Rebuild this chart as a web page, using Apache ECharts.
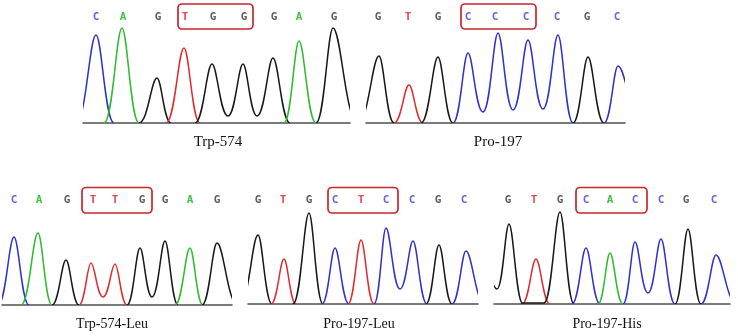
<!DOCTYPE html>
<html><head><meta charset="utf-8">
<script src="https://cdn.jsdelivr.net/npm/echarts@6/dist/echarts.min.js"></script>
<style>html,body{margin:0;padding:0;background:#fff}#c{width:738px;height:336px}</style>
</head><body><div id="c"></div>
<script>
// ---------- DATA (scan position, signal height) ----------
const trp574Name = 'Trp-574';
const trp574Bases = ['C','A','G','T','G','G','G','A','G'];
const trp574Calls = [96,123,158,185,213,244,274,299,334];
const trp574Box = [178,253];
const trp574Traces = [
  ['C', [[76,0],[96,88],[114,0]]],
  ['A', [[104,0],[122,95],[139,0]]],
  ['G', [[139,0],[157,45],[171,0]]],
  ['T', [[166,0],[184,75],[200,0]]],
  ['G', [[195,0],[212,59],[228,7],[243,59],[257,7],[273,65],[290,0]]],
  ['A', [[284,0],[299,82],[316,0]]],
  ['G', [[316,0],[333,95],[358,0]]]
];

const pro197Name = 'Pro-197';
const pro197Bases = ['G','T','G','C','C','C','C','G','C'];
const pro197Calls = [378,408,438,468,495,526,557,587,617];
const pro197Box = [461,536];
const pro197Traces = [
  ['G', [[358,0],[379,67],[394,0]]],
  ['T', [[394,0],[409,38],[423,0]]],
  ['G', [[421,0],[438,66],[453,0]]],
  ['C', [[453,0],[468,70],[483,11],[498,90],[513,13],[528,83],[543,14],[558,88],[573,0]]],
  ['G', [[573,0],[588,66],[604,0]]],
  ['C', [[604,0],[618,57],[642,0]]]
];

const trpLeuName = 'Trp-574-Leu';
const trpLeuBases = ['C','A','G','T','T','G','G','A','G'];
const trpLeuCalls = [14,39,67,93,115,142,165,190,217];
const trpLeuBox = [82,152];
const trpLeuTraces = [
  ['C', [[-2,0],[14,68],[29,0]]],
  ['A', [[21,0],[38,72],[52,0]]],
  ['G', [[52,0],[66,45],[79,0]]],
  ['T', [[79,0],[91,42],[103,8],[115,41],[127,0]]],
  ['G', [[127,0],[140,57],[152,8],[165,64],[178,0]]],
  ['A', [[175,0],[190,57],[203,0]]],
  ['G', [[202,0],[217,62],[238,0]]]
];

const proLeuName = 'Pro-197-Leu';
const proLeuBases = ['G','T','G','C','T','C','C','G','C'];
const proLeuCalls = [258,283,309,335,361,386,412,438,464];
const proLeuBox = [328,398];
const proLeuTraces = [
  ['G', [[240,0],[258,69],[272,0]]],
  ['T', [[271,0],[284,45],[296,0]]],
  ['G', [[293,0],[309,91],[323,0]]],
  ['C', [[322,0],[335,56],[349,0]]],
  ['T', [[348,0],[361,64],[374,0]]],
  ['C', [[374,0],[386,76],[400,15],[413,63],[427,0]]],
  ['G', [[426,0],[439,59],[452,0]]],
  ['C', [[452,0],[466,53],[485,0]]]
];

const proHisName = 'Pro-197-His';
const proHisBases = ['G','T','G','C','A','C','C','G','C'];
const proHisCalls = [508,534,560,586,610,635,661,686,714];
const proHisBox = [576,647];
const proHisTraces = [
  ['G', [[490,26],[497,15],[509,80],[523,0]]],
  ['T', [[522,0],[536,45],[550,0]]],
  ['G', [[521,1],[544,1],[560,92],[574,0]]],
  ['C', [[572,0],[586,56],[600,0]]],
  ['A', [[598,0],[610,51],[623,0]]],
  ['C', [[623,0],[635,62],[648,11],[661,65],[675,0]]],
  ['G', [[675,0],[688,75],[701,0]]],
  ['C', [[701,0],[716,49],[737,0]]]
];

// ---------- STYLE / LAYOUT ----------
const traceColor = {A:'#2cbc2c', C:'#3030d0', G:'#181818', T:'#e02a2e'};
const callColor  = {A:'#42c242', C:'#6868d8', G:'#5e5e5e', T:'#e24a4a'};

const panels = [
  {name:trp574Name, bases:trp574Bases, calls:trp574Calls, box:trp574Box, traces:trp574Traces,
   grid:{left:83, top:0, width:267, height:123}, x:[83,350], callY:17, boxY:[4,29], title:[218,134], fs:15},
  {name:pro197Name, bases:pro197Bases, calls:pro197Calls, box:pro197Box, traces:pro197Traces,
   grid:{left:366, top:0, width:259, height:123}, x:[366,625], callY:17, boxY:[4,29], title:[498,134], fs:15},
  {name:trpLeuName, bases:trpLeuBases, calls:trpLeuCalls, box:trpLeuBox, traces:trpLeuTraces,
   grid:{left:2, top:180, width:230, height:125}, x:[2,232], callY:20.5, boxY:[7.5,33], title:[112,317], fs:14},
  {name:proLeuName, bases:proLeuBases, calls:proLeuCalls, box:proLeuBox, traces:proLeuTraces,
   grid:{left:248, top:180, width:230, height:124}, x:[248,478], callY:20.5, boxY:[7.5,33], title:[359,317], fs:14},
  {name:proHisName, bases:proHisBases, calls:proHisCalls, box:proHisBox, traces:proHisTraces,
   grid:{left:494, top:180, width:236, height:124}, x:[494,730], callY:20.5, boxY:[7.5,33], title:[607,317], fs:14}
];

function bezierChildren(pts, color){
  const out = [];
  for (let i = 1; i < pts.length; i++){
    const [x0,y0] = pts[i-1], [x1,y1] = pts[i];
    const dx = x1 - x0;
    const k0 = y0 < y1 ? 0.32 : 0.5;
    const k1 = y1 < y0 ? 0.32 : 0.5;
    out.push({type:'bezierCurve',
      shape:{x1:x0, y1:y0, cpx1:x0 + k0*dx, cpy1:y0, cpx2:x1 - k1*dx, cpy2:y1, x2:x1, y2:y1},
      style:{fill:null, stroke:color, lineWidth:1.5}});
  }
  return out;
}

const grids = [], xAxes = [], yAxes = [], series = [], titles = [];
panels.forEach((p, gi) => {
  grids.push(Object.assign({containLabel:false}, p.grid));
  xAxes.push({type:'value', gridIndex:gi, min:p.x[0], max:p.x[1],
    axisLine:{show:true, onZero:true, lineStyle:{color:'#505050', width:1.6}},
    axisTick:{show:false}, axisLabel:{show:false}, splitLine:{show:false}});
  yAxes.push({type:'value', gridIndex:gi, min:0, max:p.grid.height, show:false,
    splitLine:{show:false}});
  // traces
  series.push({type:'custom', xAxisIndex:gi, yAxisIndex:gi, clip:true, silent:true,
    data:p.traces.map(t => t[1][1]),
    renderItem:(params, api) => {
      const t = p.traces[params.dataIndex];
      const pts = t[1].map(v => api.coord(v));
      return {type:'group', children:bezierChildren(pts, traceColor[t[0]])};
    }});
  // base calls
  series.push({type:'custom', xAxisIndex:gi, yAxisIndex:gi, clip:false, silent:true,
    data:p.calls.map(c => [c, 0]),
    renderItem:(params, api) => {
      const c = api.coord([api.value(0), 0]);
      const b = p.bases[params.dataIndex];
      return {type:'text', x:c[0], y:params.coordSys.y + p.callY,
        style:{text:b, fill:callColor[b], font:'bold 11px "DejaVu Sans Mono"',
          align:'center', verticalAlign:'middle'}};
    }});
  // highlight box
  series.push({type:'custom', xAxisIndex:gi, yAxisIndex:gi, clip:false, silent:true,
    data:[[p.box[0], p.box[1]]],
    renderItem:(params, api) => {
      const a = api.coord([api.value(0), 0]), b = api.coord([api.value(1), 0]);
      return {type:'rect', shape:{x:a[0], y:params.coordSys.y + p.boxY[0],
        width:b[0]-a[0], height:p.boxY[1]-p.boxY[0], r:4},
        style:{fill:null, stroke:'#c8262c', lineWidth:1.7}};
    }});
  titles.push({text:p.name, left:p.title[0], top:p.title[1], textAlign:'center', padding:0,
    textStyle:{fontFamily:'Liberation Serif', fontWeight:'normal', fontSize:p.fs, color:'#111', lineHeight:p.fs+1}});
});

const chart = echarts.init(document.getElementById('c'));
chart.setOption({backgroundColor:'#fff', animation:false, title:titles,
  grid:grids, xAxis:xAxes, yAxis:yAxes, series:series});
</script>
</body></html>
